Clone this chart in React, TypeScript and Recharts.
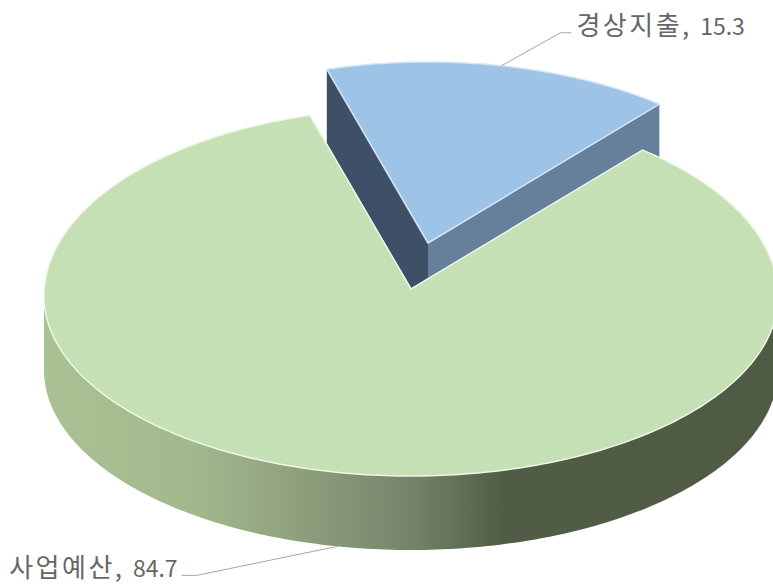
import { PieChart, Pie, Cell } from 'recharts'

const categories = ['경상지출', '사업예산']
const values = [15.3, 84.7]

const rows = categories.map((name, i) => ({ name, value: values[i] }))

const CX = 411
const CY = 289
const RX = 367
const RY_BACK = 188
const RY_FRONT = 180
const RIM_DROP = 7
const DEPTH = 74
const BLUE_SHIFT = { x: 17, y: -46 }
const FONT = '"Noto Sans CJK KR", "Noto Sans", sans-serif'

// the picture has perspective: the near half of the rim is flatter than the far half
const at = (ox: number, oy: number, deg: number) => {
  const r = (deg * Math.PI) / 180
  const s = Math.sin(r)
  return { x: ox + RX * Math.cos(r), y: oy + RIM_DROP - (s > 0 ? RY_BACK : RY_FRONT) * s }
}

const rim = (ox: number, oy: number, from: number, to: number) => {
  const pts: string[] = []
  for (let d = from; d > to; d -= 1) {
    const p = at(ox, oy, d)
    pts.push(`${p.x},${p.y}`)
  }
  const last = at(ox, oy, to)
  pts.push(`${last.x},${last.y}`)
  return pts
}

function slice3d(props: any) {
  const { startAngle, endAngle, fill, name } = props
  const isBlue = name === categories[0]
  const ox = CX + (isBlue ? BLUE_SHIFT.x : 0)
  const oy = CY + (isBlue ? BLUE_SHIFT.y : 0)
  const a = at(ox, oy, startAngle)
  const b = at(ox, oy, endAngle)
  const top = `M${ox},${oy} L${rim(ox, oy, startAngle, endAngle).join(' L')} Z`

  if (isBlue) {
    return (
      <g>
        <path d={`M${a.x},${a.y} L${ox},${oy} L${ox},${oy + DEPTH} L${a.x},${a.y + DEPTH} Z`} fill="#3d5068" />
        <path d={`M${b.x},${b.y} L${ox},${oy} L${ox},${oy + DEPTH} L${b.x},${b.y + DEPTH} Z`} fill="#667f9b" />
        <path d={top} fill={fill} stroke="#d6e6f5" strokeWidth={1.5} strokeLinejoin="round" />
      </g>
    )
  }

  const front = rim(ox, oy, 0, -180)
  const lower = rim(ox, oy + DEPTH, 0, -180).reverse()
  const wall = `M${front.join(' L')} L${lower.join(' L')} Z`
  return (
    <g>
      <path d={wall} fill="url(#wallShade)" />
      <path d={top} fill={fill} stroke="#eef6e6" strokeWidth={1.5} strokeLinejoin="round" />
    </g>
  )
}

function leaderLabel(props: any) {
  const { midAngle, name, value } = props
  const isBlue = name === categories[0]
  const p = isBlue
    ? at(CX + BLUE_SHIFT.x, CY + BLUE_SHIFT.y, midAngle)
    : at(CX, CY + DEPTH, midAngle)
  const elbow = isBlue ? { x: p.x + 59, y: p.y - 33 } : { x: p.x - 141, y: p.y + 29 }
  const end = isBlue ? elbow.x + 11 : elbow.x - 15
  return (
    <g>
      <path d={`M${p.x},${p.y} L${elbow.x},${elbow.y} L${end},${elbow.y}`} fill="none" stroke="#a6a6a6" strokeWidth={1} />
      <text
        x={isBlue ? end + 5 : end - 4}
        y={elbow.y + 2}
        textAnchor={isBlue ? 'start' : 'end'}
        fill="#666666"
        fontFamily={FONT}
      >
        <tspan fontSize={26} letterSpacing={2.5}>{name}, </tspan>
        <tspan fontSize={23}>{value}</tspan>
      </text>
    </g>
  )
}

export default function App() {
  return (
    <div style={{ position: 'absolute', left: 0, top: 0, width: 773, height: 584 }}>
      <PieChart width={773} height={584}>
        <defs>
          <linearGradient id="wallShade" gradientUnits="userSpaceOnUse" x1={44} y1={0} x2={778} y2={0}>
            <stop offset="0" stopColor="#a9c193" />
            <stop offset="0.2" stopColor="#a2b98d" />
            <stop offset="0.35" stopColor="#8e9f7d" />
            <stop offset="0.5" stopColor="#73846a" />
            <stop offset="0.63" stopColor="#505c45" />
            <stop offset="1" stopColor="#505b45" />
          </linearGradient>
        </defs>
        <Pie
          data={rows}
          dataKey="value"
          nameKey="name"
          cx={CX}
          cy={CY}
          innerRadius={0}
          outerRadius={RX}
          startAngle={106}
          endAngle={-254}
          stroke="none"
          shape={slice3d}
          label={leaderLabel}
          labelLine={false}
          isAnimationActive={false}
        >
          <Cell fill="#9dc3e6" />
          <Cell fill="#c5e0b4" />
        </Pie>
      </PieChart>
    </div>
  )
}
